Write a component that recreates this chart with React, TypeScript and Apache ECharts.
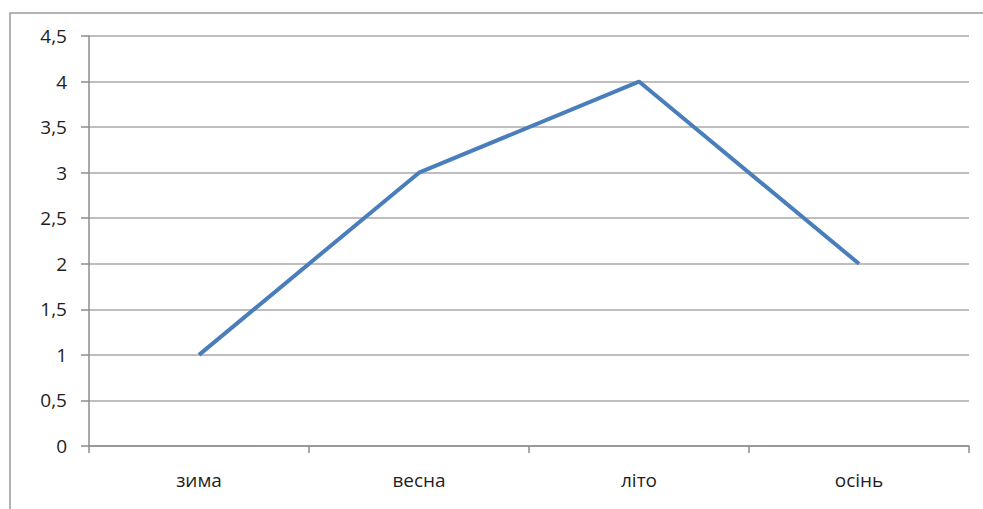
import React, { useEffect, useRef } from "react";
import * as echarts from "echarts";

const categories = ["зима", "весна", "літо", "осінь"];
const values = [1, 3, 4, 2];
const yMin = 0;
const yMax = 4.5;
const yInterval = 0.5;

export default function App() {
  const ref = useRef<HTMLDivElement>(null);
  useEffect(() => {
    document.body.style.margin = "0";
    if (!ref.current) return;
    const chart = echarts.init(ref.current, undefined, { renderer: "svg" });
    const font = "'Open Sans', sans-serif";
    chart.setOption({
      animation: false,
      backgroundColor: "#ffffff",
      graphic: [
        {
          type: "rect",
          shape: { x: 10, y: 13, width: 1000, height: 600 },
          style: { fill: "none", stroke: "#9a9a9a", lineWidth: 1.5 },
          silent: true,
        },
      ],
      grid: { left: 89, top: 36, right: 14, bottom: 63 },
      xAxis: {
        type: "category",
        data: categories,
        boundaryGap: true,
        axisLine: { show: true, lineStyle: { color: "#8c8c8c", width: 1.5 } },
        axisTick: { show: true, length: 7, alignWithLabel: false, lineStyle: { color: "#8c8c8c", width: 1.5 } },
        axisLabel: { margin: 24, color: "#1e1e1e", fontSize: 19, fontFamily: font },
        splitLine: { show: false },
      },
      yAxis: {
        type: "value",
        min: yMin,
        max: yMax,
        interval: yInterval,
        axisLine: { show: true, lineStyle: { color: "#8c8c8c", width: 1.5 } },
        axisTick: { show: true, length: 8, lineStyle: { color: "#8c8c8c", width: 1.5 } },
        axisLabel: {
          margin: 22,
          color: "#1e1e1e",
          fontSize: 19,
          fontFamily: font,
          formatter: (v: number) => String(v).replace(".", ","),
        },
        splitLine: { show: true, lineStyle: { color: "#a8a8a8", width: 1.5 } },
      },
      series: [
        {
          type: "line",
          data: values,
          symbol: "none",
          lineStyle: { color: "#4a7ebb", width: 4 },
        },
      ],
    });
    return () => chart.dispose();
  }, []);
  return <div ref={ref} style={{ width: 983, height: 509 }} />;
}
